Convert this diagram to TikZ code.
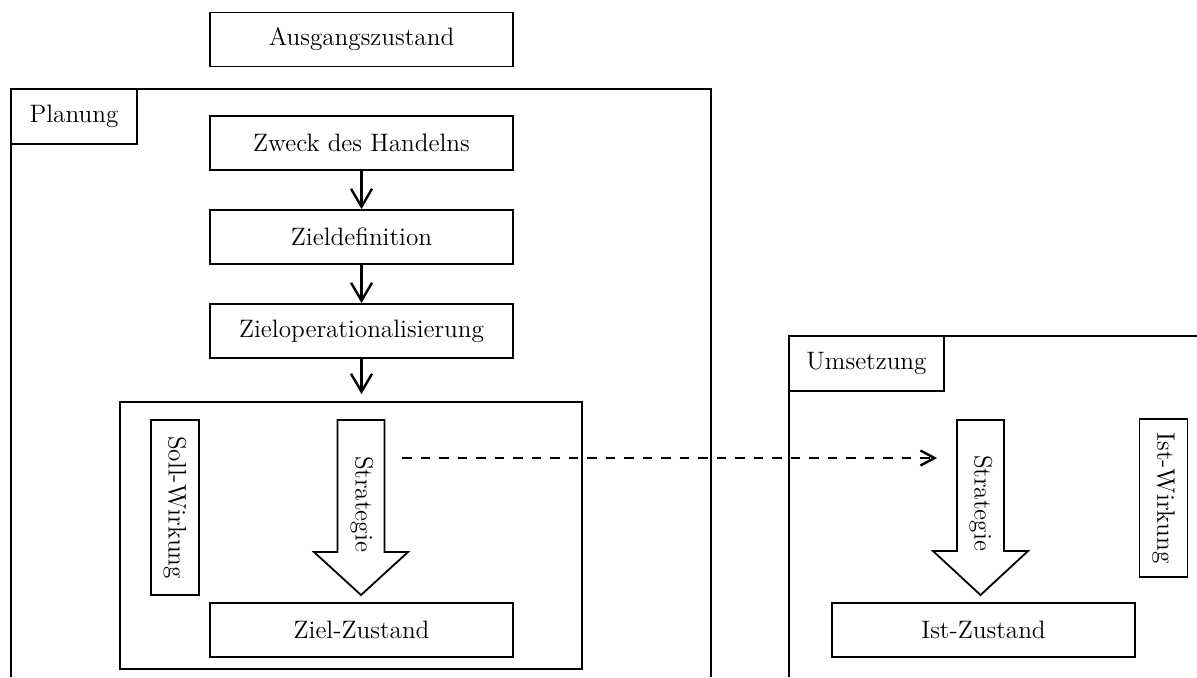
\documentclass[tikz,border=0pt]{standalone}
\usetikzlibrary{arrows.meta,calc}
\begin{document}
\begin{tikzpicture}[x=0.5pt,y=-0.5pt,
  box/.style={draw,line width=0.9pt,inner sep=0pt,font=\fontsize{12.6}{15}\selectfont},
  wbox/.style={box,minimum width=151.5pt,minimum height=27pt},
  vbox/.style={box,minimum height=24pt,rotate=-90},
  frame/.style={line width=0.9pt},
  arr/.style={line width=1.2pt,-{Straight Barb[length=9pt,width=10.5pt]}},
  darr/.style={line width=1.2pt,dash pattern=on 4.75pt off 4.5pt,-{Straight Barb[length=7pt,width=7.5pt]}},
  bigarrow/.style={line width=0.9pt,fill=white},
  vtext/.style={rotate=-90,font=\fontsize{12.6}{15}\selectfont,inner sep=0pt}]
\useasboundingbox (0,0) rectangle (1197,677);

% top box
\node[wbox] (aus) at (361.5,39.5) {Ausgangszustand};

% Planung frame
\draw[frame] (11,677) -- (11,89) -- (711,89) -- (711,677);
\node[box,minimum width=63pt,minimum height=27.5pt] (plan) at (74,116.5) {Planung};

\node[wbox] (zweck) at (361.5,143) {Zweck des Handelns};
\node[wbox] (zdef) at (361.5,237) {Zieldefinition};
\node[wbox] (zop) at (361.5,331) {Zieloperationalisierung};

\node[draw,line width=0.9pt,minimum width=231pt,minimum height=133.5pt,inner sep=0pt] (inner) at (351,535.5) {};

\draw[arr] (zweck) -- (zdef);
\draw[arr] (zdef) -- (zop);
\draw[arr,shorten >=3.5pt] (zop.south) -- (zop.south |- inner.north);

\node[vbox,minimum width=87.5pt] (soll) at (175,507.5) {Soll-Wirkung};

\draw[bigarrow] (337.5,420) -- (384.5,420) -- (384.5,552) -- (408,552) -- (361,595) -- (314,552) -- (337.5,552) -- cycle;
\node[vtext] (strat1) at (362,504) {Strategie};

\node[wbox] (ziel) at (361.5,630) {Ziel-Zustand};

% Umsetzung frame
\draw[frame] (789,677) -- (789,336) -- (1197,336);
\node[box,minimum width=77.5pt,minimum height=27.5pt] (ums) at (866.5,363.5) {Umsetzung};

\draw[bigarrow] (957,420) -- (1004,420) -- (1004,551) -- (1028,551) -- (980.5,595) -- (933,551) -- (957,551) -- cycle;
\node[vtext] (strat2) at (981,503) {Strategie};

\node[vbox,minimum width=79pt] (ist) at (1163.5,498) {Ist-Wirkung};

\node[wbox] (istz) at (983.5,630) {Ist-Zustand};

\coordinate (dstart) at (402,458);
\coordinate (dend) at (937,458);
\draw[darr] (dstart) -- (dend);
\end{tikzpicture}
\end{document}
